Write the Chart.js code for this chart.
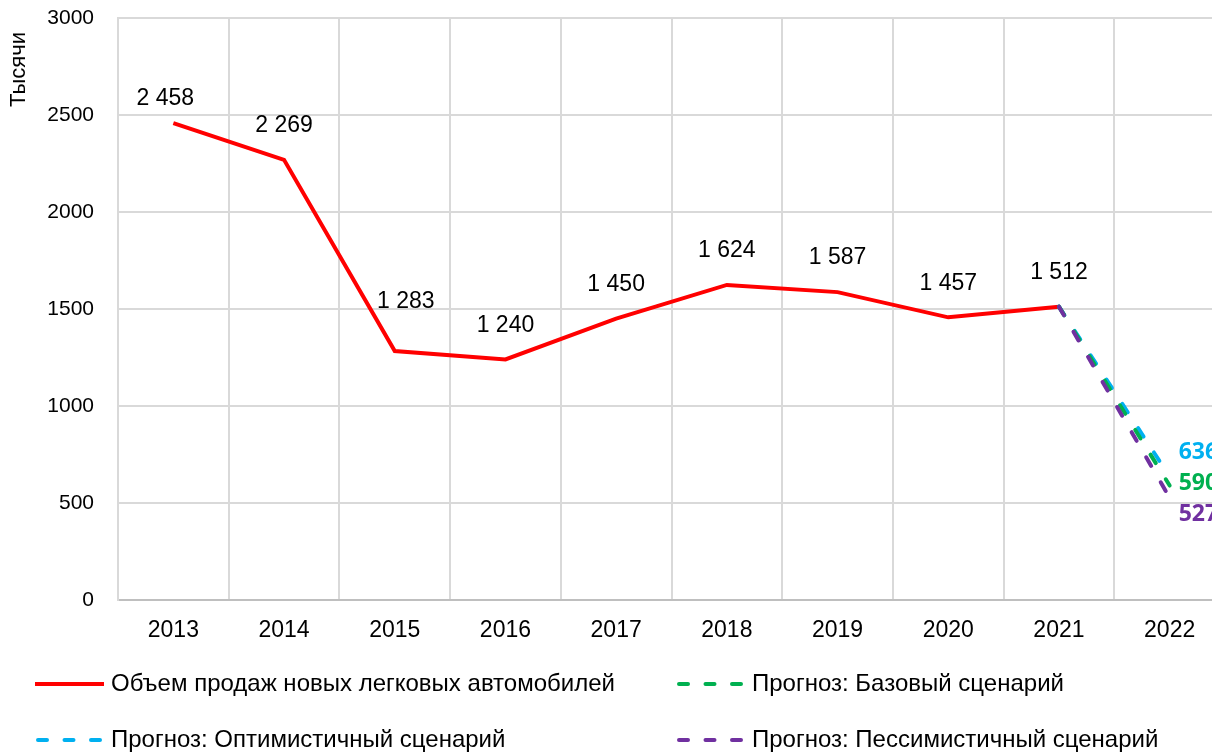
<!DOCTYPE html>
<html>
<head>
<meta charset="utf-8">
<script src="https://cdn.jsdelivr.net/npm/chart.js@4.4.0/dist/chart.umd.min.js"></script>
<style>
  html, body { margin: 0; padding: 0; overflow: hidden; background: #fff; }
  #wrap { width: 1230px; height: 755px; position: relative; }
</style>
</head>
<body>
<div id="wrap"><canvas id="salesChart"></canvas></div>
<script>
// categories
const years = ['2013', '2014', '2015', '2016', '2017', '2018', '2019', '2020', '2021', '2022'];

// sales of new passenger cars, thousands
const salesValues = [2458, 2269, 1283, 1240, 1450, 1624, 1587, 1457, 1512, null];

// forecasts from 2021 to 2022
const optimisticValues = [null, null, null, null, null, null, null, null, 1512, 636];
const baseValues = [null, null, null, null, null, null, null, null, 1512, 590];
const pessimisticValues = [null, null, null, null, null, null, null, null, 1512, 527];

const yTicks = [0, 500, 1000, 1500, 2000, 2500, 3000];
const yTitle = 'Тысячи';

const seriesNames = [
    'Объем продаж новых легковых автомобилей',
    'Прогноз: Оптимистичный сценарий',
    'Прогноз: Базовый сценарий',
    'Прогноз: Пессимистичный сценарий'
];

const RED = '#ff0000';
const BLUE = '#00b0f0';
const GREEN = '#00b050';
const PURPLE = '#7030a0';
const FONT = '"Liberation Sans", Arial, sans-serif';

function fmt(v) {
    return String(v).replace(/\B(?=(\d{3})+(?!\d))/g, ' ');
}

// data labels drawn by hand
const labelPlugin = {
    id: 'labels',
    afterDatasetsDraw(chart) {
        const ctx = chart.ctx;
        ctx.save();
        // main series: above the point
        const meta = chart.getDatasetMeta(0);
        const shift = { 0: [-8, 10], 2: [11, -15] };
        ctx.font = '23px ' + FONT;
        ctx.fillStyle = '#000';
        ctx.textAlign = 'center';
        ctx.textBaseline = 'middle';
        salesValues.forEach((v, i) => {
            if (v === null) return;
            const p = meta.data[i];
            const s = shift[i] || [0, 0];
            ctx.fillText(fmt(v), p.x + s[0], p.y - 34 + s[1]);
        });
        // forecasts: right of the last point
        const fc = [[1, -24], [2, -2], [3, 17]];
        ctx.font = 'bold 23px "Open Sans", "Liberation Sans", sans-serif';
        ctx.textAlign = 'left';
        fc.forEach(([di, dy]) => {
            const ds = chart.data.datasets[di];
            const m = chart.getDatasetMeta(di);
            const last = ds.data.length - 1;
            const p = m.data[last];
            ctx.fillStyle = ds.borderColor;
            ctx.fillText(fmt(ds.data[last]), p.x + 9, p.y + dy);
        });
        ctx.restore();

        // y axis title, near the top of the axis
        const area = chart.chartArea;
        ctx.save();
        ctx.translate(25, area.top + 89);
        ctx.rotate(-Math.PI / 2);
        ctx.font = '22px ' + FONT;
        ctx.fillStyle = '#000';
        ctx.textAlign = 'left';
        ctx.textBaseline = 'alphabetic';
        ctx.fillText(yTitle, 0, 0);
        ctx.restore();
    }
};

// two-column legend at the bottom
const legendPlugin = {
    id: 'twoColLegend',
    afterDraw(chart) {
        const ctx = chart.ctx;
        const slots = [[35, 684], [35, 740], [676, 684], [676, 740]];
        ctx.save();
        ctx.font = '24px ' + FONT;
        ctx.textBaseline = 'middle';
        ctx.textAlign = 'left';
        chart.data.datasets.forEach((ds, i) => {
            const [x, y] = slots[i];
            ctx.strokeStyle = ds.borderColor;
            ctx.lineWidth = 4;
            if (ds.borderDash) {
                ctx.lineCap = 'round';
                ctx.setLineDash([9, 17.5]);
                ctx.beginPath();
                ctx.moveTo(x + 3, y);
                ctx.lineTo(x + 66, y);
            } else {
                ctx.lineCap = 'butt';
                ctx.setLineDash([]);
                ctx.beginPath();
                ctx.moveTo(x, y);
                ctx.lineTo(x + 69, y);
            }
            ctx.stroke();
            ctx.setLineDash([]);
            ctx.fillStyle = '#000';
            ctx.fillText(ds.label, x + 76, y);
        });
        ctx.restore();
    }
};

function forecastSet(label, data, color, order) {
    return {
        label: label,
        data: data,
        borderColor: color,
        backgroundColor: color,
        borderWidth: 4,
        borderDash: [10, 19],
        borderCapStyle: 'round',
        pointRadius: 0,
        order: order
    };
}

new Chart(document.getElementById('salesChart'), {
    type: 'line',
    data: {
        labels: years,
        datasets: [
            {
                label: seriesNames[0],
                data: salesValues,
                borderColor: RED,
                backgroundColor: RED,
                borderWidth: 4,
                pointRadius: 0,
                tension: 0,
                order: 4
            },
            forecastSet(seriesNames[1], optimisticValues, BLUE, 3),
            forecastSet(seriesNames[2], baseValues, GREEN, 2),
            forecastSet(seriesNames[3], pessimisticValues, PURPLE, 1)
        ]
    },
    options: {
        responsive: true,
        maintainAspectRatio: false,
        animation: false,
        layout: { padding: { top: 18, right: 5, bottom: 105, left: 0 } },
        plugins: {
            legend: { display: false },
            tooltip: { enabled: false }
        },
        scales: {
            x: {
                offset: true,
                grid: { offset: true, color: '#d9d9d9', lineWidth: 2, drawTicks: false },
                border: { color: '#bfbfbf', width: 2 },
                ticks: {
                    color: '#000',
                    padding: 17,
                    font: { family: FONT, size: 23 }
                },
                afterFit(scale) {
                    scale.height = 50;
                    scale.paddingTop = 0;
                    scale.paddingBottom = 0;
                }
            },
            y: {
                min: 0,
                max: 3000,
                afterBuildTicks(scale) { scale.ticks = yTicks.map(v => ({ value: v })); },
                grid: { color: '#d9d9d9', lineWidth: 2, drawTicks: false },
                border: { color: '#d9d9d9', width: 2 },
                ticks: {
                    color: '#000',
                    padding: 24,
                    font: { family: FONT, size: 21 },
                    callback: v => String(v)
                },
                afterFit(scale) {
                    scale.width = 118;
                    scale.paddingTop = 0;
                    scale.paddingBottom = 0;
                }
            }
        }
    },
    plugins: [labelPlugin, legendPlugin]
});
</script>
</body>
</html>
